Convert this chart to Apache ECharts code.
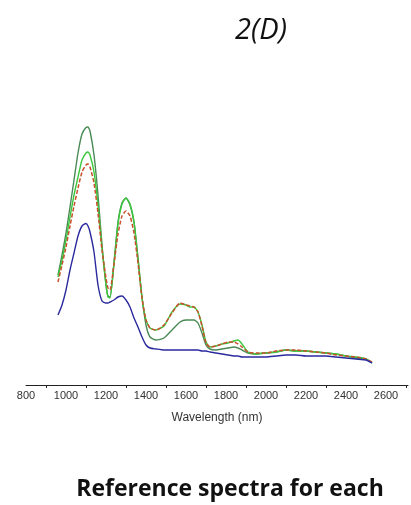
<!DOCTYPE html>
<html>
<head>
<meta charset="utf-8">
<script src="https://cdn.jsdelivr.net/npm/echarts@6/dist/echarts.min.js"></script>
<style>
html,body{margin:0;padding:0;background:#fff;}
#chart{width:411px;height:505px;}
</style>
</head>
<body>
<div id="chart"></div>
<script>
var wavelengths = [960, 980, 1000, 1020, 1040, 1060, 1080, 1100, 1110, 1120, 1140, 1160, 1180, 1200, 1210, 1220, 1240, 1260, 1280, 1300, 1320, 1340, 1360, 1380, 1400, 1420, 1450, 1490, 1530, 1570, 1600, 1620, 1640, 1660, 1680, 1700, 1720, 1750, 1780, 1810, 1840, 1860, 1880, 1910, 1950, 2000, 2050, 2100, 2150, 2200, 2250, 2300, 2350, 2400, 2450, 2500, 2530];

var darkGreen = [110, 130, 152, 178, 205, 232, 251, 257.5, 258, 254, 230, 190, 140, 100, 89, 88, 123, 163, 182, 187, 180, 163, 127, 88, 60, 48, 45, 47, 55, 63, 65, 65, 65, 62, 52, 40, 36, 35, 36, 37, 38, 37, 35, 32, 31, 32, 33, 35, 34, 34, 33, 32, 31, 29, 27, 26, 22];

var brightGreen = [108, 125, 145, 168, 190, 208, 225, 232, 233, 230, 213, 180, 137, 100, 88, 87, 121, 161, 181, 187, 181, 163, 126, 87, 65, 57, 55, 59, 73, 81, 80, 78, 78, 73, 60, 43, 38, 39, 41, 42, 44, 45, 41, 33, 31, 32, 33, 35, 34, 34, 33, 32, 31, 29, 28, 26, 22];

var red = [103, 120, 138, 159, 179, 197, 213, 220, 221, 218, 202, 172, 135, 107, 97, 95, 121, 151, 169, 174, 169, 152, 122, 87, 65, 57, 55, 60, 72, 82, 80, 79, 78, 73, 59, 42, 38, 39, 41, 43, 43, 41, 38, 33, 32, 32, 34, 35, 35, 34, 33, 32, 30, 29, 28, 26, 23];

var blue = [70, 80, 95, 115, 132, 149, 159, 161.5, 159, 153, 133, 100, 84, 82, 82, 83, 85, 88, 89, 85, 78, 67, 58, 48, 40, 37, 36, 35, 35, 35, 35, 35, 35, 35, 34, 34, 33, 32, 31, 30, 29, 29, 28, 28, 28, 28, 29, 30, 30, 29, 29, 29, 28, 27, 26, 25, 22];

var tickLabels = [800, 1000, 1200, 1400, 1600, 1800, 2000, 2200, 2400, 2600];
var tickMarks = [900, 1100, 1300, 1500, 1700, 1900, 2100, 2300, 2500, 2700];

function pairs(vals) {
  return wavelengths.map(function (w, i) { return [w, vals[i]]; });
}

var chart = echarts.init(document.getElementById('chart'), null, {renderer: 'canvas'});
chart.setOption({
  animation: false,
  backgroundColor: '#ffffff',
  grid: {left: 26, right: 3, top: 85, bottom: 120},
  xAxis: {
    type: 'value',
    min: 800,
    max: 2710,
    interval: 200,
    name: 'Wavelength (nm)',
    nameLocation: 'middle',
    nameGap: 27,
    nameTextStyle: {fontFamily: 'Liberation Sans', fontSize: 12, color: '#333'},
    axisLine: {show: true, lineStyle: {color: '#222', width: 1}},
    axisTick: {show: true, length: 3, lineStyle: {color: '#222'}, customValues: tickMarks},
    axisLabel: {fontFamily: 'Liberation Sans', fontSize: 11, color: '#333', margin: 5, customValues: tickLabels,
      formatter: function (v) { return String(v); }},
    splitLine: {show: false}
  },
  yAxis: {
    type: 'value',
    min: 0,
    max: 300,
    show: false
  },
  series: [
    {type: 'line', name: 'dark green', data: pairs(darkGreen), showSymbol: false, smooth: 0.2,
     lineStyle: {color: '#4a8a55', width: 1.4}},
    {type: 'line', name: 'bright green', data: pairs(brightGreen), showSymbol: false, smooth: 0.2,
     lineStyle: {color: '#3cc83c', width: 1.4}},
    {type: 'line', name: 'red', data: pairs(red), showSymbol: false, smooth: 0.2,
     lineStyle: {color: '#c8502a', width: 1.5, type: [4, 2]}},
    {type: 'line', name: 'blue', data: pairs(blue), showSymbol: false, smooth: 0.2,
     lineStyle: {color: '#2a2a9e', width: 1.4}}
  ],
  graphic: [
    {type: 'text', x: 261, y: 31, style: {text: '2(D)', fontFamily: 'Open Sans', fontStyle: 'italic', fontSize: 29, fill: '#111', textAlign: 'center', textVerticalAlign: 'middle'}},
    {type: 'text', x: 230, y: 489, style: {text: 'Reference spectra for each', fontFamily: 'Open Sans', fontWeight: 'bold', fontSize: 23, fill: '#111', textAlign: 'center', textVerticalAlign: 'middle'}}
  ]
});
</script>
</body>
</html>
